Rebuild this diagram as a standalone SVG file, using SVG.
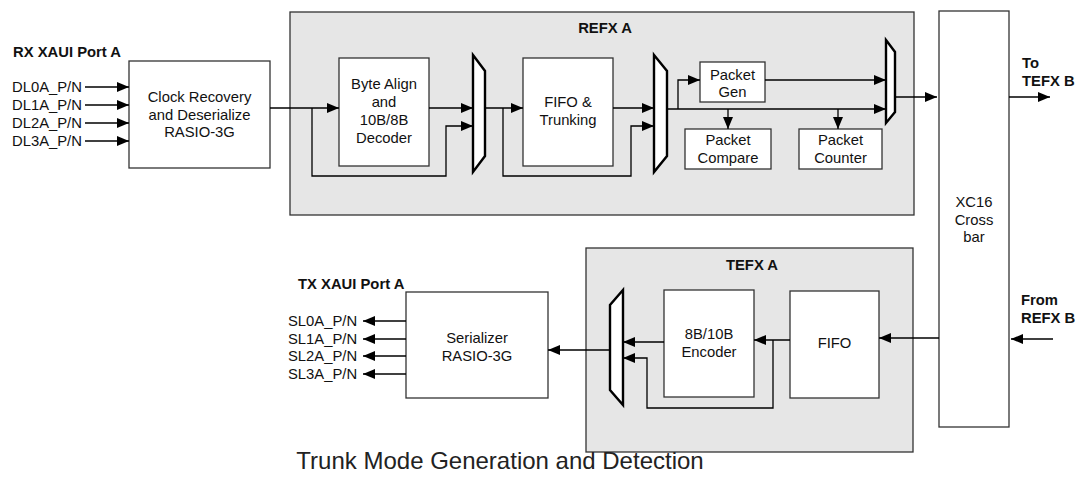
<svg xmlns="http://www.w3.org/2000/svg" width="1080" height="486" viewBox="0 0 1080 486">
  <defs>
    <marker id="arrow" markerUnits="userSpaceOnUse" markerWidth="13" markerHeight="11" refX="12" refY="5" orient="auto">
      <path d="M0,0 L12,5 L0,10 z" fill="#000"/>
    </marker>
    <style>
      text { font-family: "Liberation Sans", Arial, sans-serif; font-size: 14.8px; fill: #111; }
      .b { font-weight: bold; }
      .c { text-anchor: middle; }
      .title { font-size: 24px; text-anchor: middle; fill: #222; }
      .panel { fill: #e6e6e6; stroke: #333; stroke-width: 1.3; }
      .box { fill: #fff; stroke: #333; stroke-width: 1.3; }
      .mux { fill: #fff; stroke: #000; stroke-width: 2.4; stroke-linejoin: miter; }
      .wire { fill: none; stroke: #000; stroke-width: 1.3; }
      .arr { marker-end: url(#arrow); }
    </style>
  </defs>
  <rect width="1080" height="486" fill="#fff"/>

  <!-- receive path panel -->
  <g id="refx-a">
    <rect class="panel" x="290" y="12" width="624" height="203"/>
    <text class="b c" x="605" y="33">REFX A</text>
  </g>
  <!-- transmit path panel -->
  <g id="tefx-a">
    <rect class="panel" x="586" y="248" width="327" height="204"/>
    <text class="b c" x="752" y="270">TEFX A</text>
  </g>

  <!-- port labels -->
  <g id="rx-port">
    <text class="b" x="13" y="57">RX XAUI Port A</text>
    <text x="12" y="92">DL0A_P/N</text>
    <text x="12" y="110">DL1A_P/N</text>
    <text x="12" y="128">DL2A_P/N</text>
    <text x="12" y="146">DL3A_P/N</text>
  </g>
  <g id="tx-port">
    <text class="b" x="298" y="289">TX XAUI Port A</text>
    <text x="288" y="326">SL0A_P/N</text>
    <text x="288" y="344">SL1A_P/N</text>
    <text x="288" y="361">SL2A_P/N</text>
    <text x="288" y="379">SL3A_P/N</text>
  </g>
  <g id="to-tefx-b">
    <text class="b" x="1022" y="68">To</text>
    <text class="b" x="1022" y="86">TEFX B</text>
  </g>
  <g id="from-refx-b">
    <text class="b" x="1021" y="305">From</text>
    <text class="b" x="1021" y="323">REFX B</text>
  </g>

  <!-- blocks -->
  <g id="clock-recovery">
    <rect class="box" x="129" y="61" width="141" height="107"/>
    <text class="c" x="199.5" y="102">Clock Recovery</text>
    <text class="c" x="199.5" y="120">and Deserialize</text>
    <text class="c" x="199.5" y="137">RASIO-3G</text>
  </g>
  <g id="byte-align">
    <rect class="box" x="339" y="58" width="90" height="108"/>
    <text class="c" x="384" y="89">Byte Align</text>
    <text class="c" x="384" y="107">and</text>
    <text class="c" x="384" y="125">10B/8B</text>
    <text class="c" x="384" y="143">Decoder</text>
  </g>
  <g id="fifo-trunking">
    <rect class="box" x="523" y="58" width="90" height="108"/>
    <text class="c" x="568" y="107">FIFO &amp;</text>
    <text class="c" x="568" y="125">Trunking</text>
  </g>
  <g id="packet-gen">
    <rect class="box" x="700" y="62" width="65" height="40"/>
    <text class="c" x="732.5" y="80">Packet</text>
    <text class="c" x="732.5" y="97">Gen</text>
  </g>
  <g id="packet-compare">
    <rect class="box" x="685" y="129" width="86" height="40"/>
    <text class="c" x="728" y="145">Packet</text>
    <text class="c" x="728" y="163">Compare</text>
  </g>
  <g id="packet-counter">
    <rect class="box" x="799" y="129" width="83" height="40"/>
    <text class="c" x="840.5" y="145">Packet</text>
    <text class="c" x="840.5" y="163">Counter</text>
  </g>
  <g id="crossbar">
    <rect class="box" x="939" y="11" width="70" height="416"/>
    <text class="c" x="974" y="207">XC16</text>
    <text class="c" x="974" y="225">Cross</text>
    <text class="c" x="974" y="242">bar</text>
  </g>
  <g id="fifo">
    <rect class="box" x="790" y="291" width="89" height="107"/>
    <text class="c" x="834.5" y="348">FIFO</text>
  </g>
  <g id="encoder">
    <rect class="box" x="664" y="290" width="90" height="107"/>
    <text class="c" x="709" y="339">8B/10B</text>
    <text class="c" x="709" y="357">Encoder</text>
  </g>
  <g id="serializer">
    <rect class="box" x="406" y="292" width="142" height="106"/>
    <text class="c" x="477" y="343">Serializer</text>
    <text class="c" x="477" y="361">RASIO-3G</text>
  </g>

  <!-- multiplexers -->
  <g id="mux-1"><polygon class="mux" points="473,55 485,71 485,156 473,172"/></g>
  <g id="mux-2"><polygon class="mux" points="654,55 667,71 667,156 654,172"/></g>
  <g id="mux-3"><polygon class="mux" points="886,40 895,52 895,112 886,123"/></g>
  <g id="mux-4"><polygon class="mux" points="623,290 623,405 610,390 610,305"/></g>

  <!-- connectors -->
  <g id="connectors">
    <!-- serial lanes in -->
    <line class="wire arr" x1="85" y1="87" x2="129" y2="87"/>
    <line class="wire arr" x1="85" y1="105" x2="129" y2="105"/>
    <line class="wire arr" x1="85" y1="123" x2="129" y2="123"/>
    <line class="wire arr" x1="85" y1="141" x2="129" y2="141"/>
    <!-- receive chain -->
    <line class="wire arr" x1="270" y1="108" x2="339" y2="108"/>
    <polyline class="wire arr" points="312,108 312,176 446,176 446,126 473,126"/>
    <line class="wire arr" x1="429" y1="108" x2="473" y2="108"/>
    <line class="wire arr" x1="485" y1="108" x2="523" y2="108"/>
    <polyline class="wire arr" points="503,108 503,176 631,176 631,126 654,126"/>
    <line class="wire arr" x1="613" y1="108" x2="654" y2="108"/>
    <line class="wire arr" x1="667" y1="109" x2="886" y2="109"/>
    <polyline class="wire arr" points="678,109 678,80 700,80"/>
    <line class="wire arr" x1="765" y1="80" x2="886" y2="80"/>
    <line class="wire arr" x1="728" y1="109" x2="728" y2="129"/>
    <line class="wire arr" x1="838" y1="109" x2="838" y2="129"/>
    <line class="wire arr" x1="895" y1="97" x2="937" y2="97"/>
    <line class="wire arr" x1="1009" y1="97" x2="1050" y2="97"/>
    <!-- transmit chain -->
    <line class="wire arr" x1="1053" y1="339" x2="1011" y2="339"/>
    <line class="wire arr" x1="939" y1="338" x2="879" y2="338"/>
    <line class="wire arr" x1="790" y1="340" x2="754" y2="340"/>
    <polyline class="wire arr" points="773,340 773,408 647,408 647,358 623,358"/>
    <line class="wire arr" x1="664" y1="342" x2="623" y2="342"/>
    <line class="wire arr" x1="610" y1="350" x2="548" y2="350"/>
    <!-- serial lanes out -->
    <line class="wire arr" x1="406" y1="321" x2="363" y2="321"/>
    <line class="wire arr" x1="406" y1="339" x2="363" y2="339"/>
    <line class="wire arr" x1="406" y1="356" x2="363" y2="356"/>
    <line class="wire arr" x1="406" y1="374" x2="363" y2="374"/>
  </g>

  <text class="title" x="500" y="469">Trunk Mode Generation and Detection</text>
</svg>
